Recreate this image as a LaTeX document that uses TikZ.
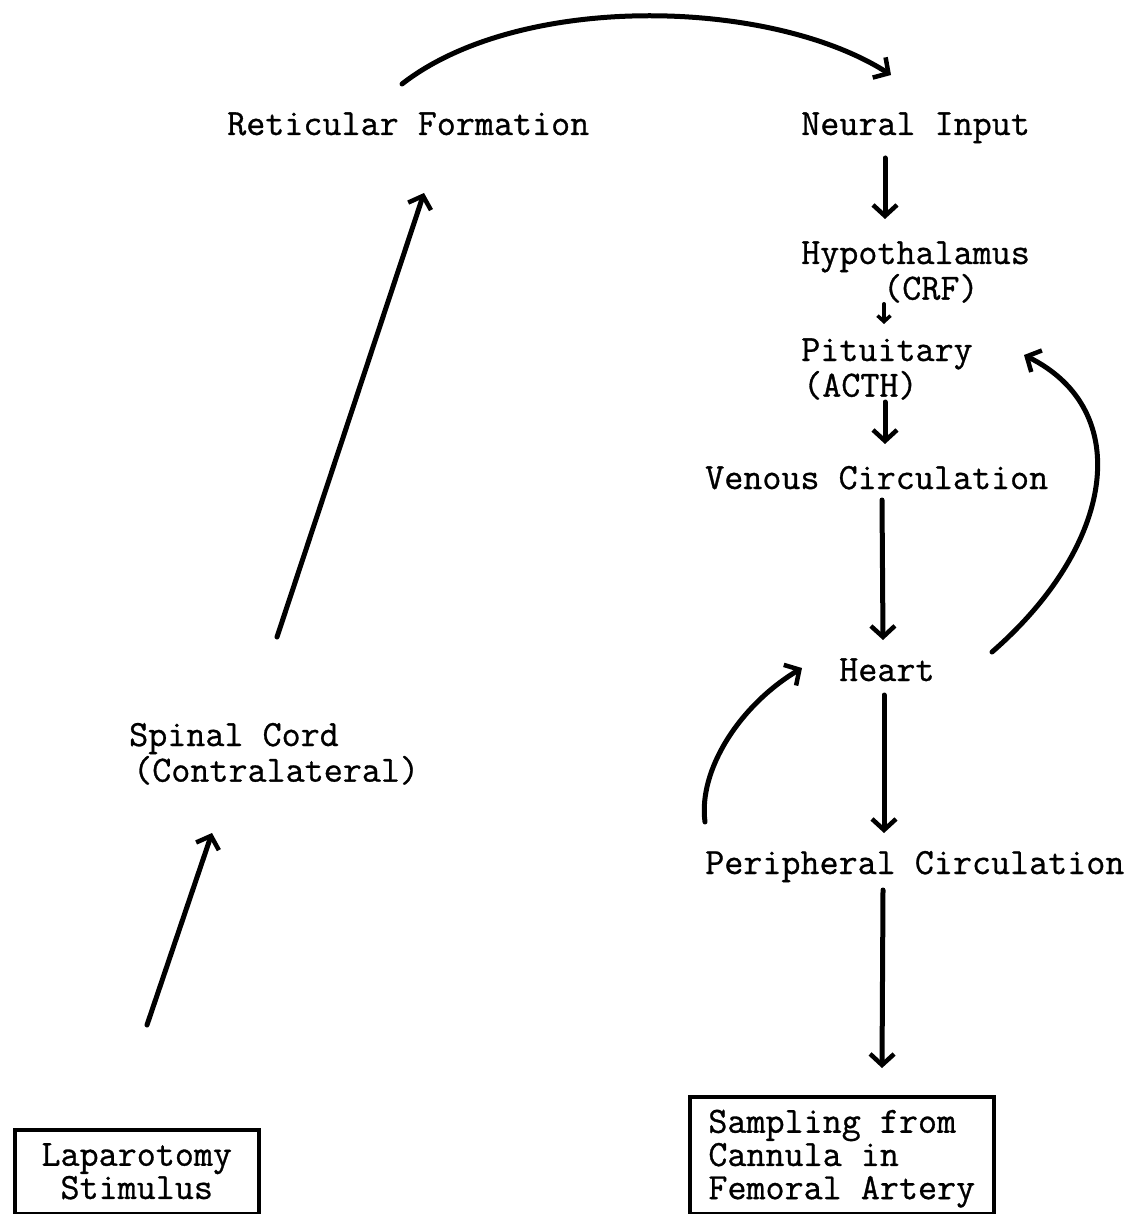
\documentclass[tikz,border=0pt]{standalone}
\usepackage{fontspec}
\newfontfamily\tw[FakeBold=0.8]{Latin Modern Mono}
\usetikzlibrary{arrows.meta}
\tikzset{
  lbl/.style={font=\tw\fontsize{37}{33.2}\selectfont, inner sep=0pt, anchor=base west},
  arr/.style={line width=5pt, line cap=round, -{Straight Barb[length=11pt,width=24pt,line width=4.5pt]}},
  smallarr/.style={line width=4pt, line cap=round, -{Straight Barb[length=6pt,width=13pt,line width=3.5pt]}},
  frame/.style={draw, line width=3.5pt, inner xsep=0pt, inner ysep=0pt, anchor=north west,
    font=\tw\fontsize{37}{33.2}\selectfont}
}
\begin{document}
\begin{tikzpicture}[x=1pt,y=-1pt]
\useasboundingbox (0,0) rectangle (1131,1214);
% labels
\node[lbl] (retic) at (227,135) {Reticular Formation};
\node[lbl] (neural) at (801,135) {Neural Input};
\node[lbl] (hypo) at (801,264) {\begin{tabular}[t]{@{}l@{}}Hypothalamus\\\hspace*{82pt}(CRF)\end{tabular}};
\node[lbl] (pit) at (801,361) {\begin{tabular}[t]{@{}l@{}}Pituitary\\\hspace*{2pt}(ACTH)\end{tabular}};
\node[lbl] (venous) at (705,489) {Venous Circulation};
\node[lbl] (heart) at (839,681) {Heart};
\node[lbl] (spinal) at (129,746) {\begin{tabular}[t]{@{}l@{}}Spinal Cord\\\hspace*{4pt}(Contralateral)\end{tabular}};
\node[lbl] (periph) at (705,874) {Peripheral Circulation};
\node[frame, minimum width=244pt, text height=36pt, text depth=48pt] (lap) at (13,1128)
  {\begin{tabular}[t]{@{}c@{}}Laparotomy\\Stimulus\end{tabular}};
\node[frame, minimum width=304pt, text height=36pt, text depth=81pt] (samp) at (688,1095)
  {\begin{tabular}[t]{@{}l@{}}Sampling from\\Cannula in\\Femoral Artery\end{tabular}};
% connector end points
\coordinate (retic-out) at (402,84);
\coordinate (neural-in) at (891,75);
\coordinate (neural-out) at (885,158);
\coordinate (hypo-in) at (885,219);
\coordinate (hypo-out) at (884,304);
\coordinate (pit-in) at (884,324);
\coordinate (pit-out) at (885,402);
\coordinate (venous-in) at (885,444);
\coordinate (venous-out) at (882,500);
\coordinate (heart-in) at (883,640);
\coordinate (heart-out) at (884,695);
\coordinate (periph-in) at (884,833);
\coordinate (periph-out) at (883,890);
\coordinate (samp-in) at (882,1068);
\coordinate (heart-fb) at (992,652);
\coordinate (pit-fb) at (1024,355);
\coordinate (periph-fb) at (705,822);
\coordinate (heart-fbin) at (802,668);
\coordinate (lap-out) at (147,1025);
\coordinate (spinal-in) at (212,833);
\coordinate (spinal-out) at (277,637);
\coordinate (retic-in) at (424,193);
% connectors
\draw[arr] (retic-out) .. controls (520,-8) and (770,-2) .. (neural-in);
\draw[arr] (neural-out) -- (hypo-in);
\draw[smallarr] (hypo-out) -- (pit-in);
\draw[arr] (pit-out) -- (venous-in);
\draw[arr] (venous-out) -- (heart-in);
\draw[arr] (heart-out) -- (periph-in);
\draw[arr] (periph-out) -- (samp-in);
\draw[arr] (heart-fb) .. controls (1115,545) and (1135,410) .. (pit-fb);
\draw[arr] (periph-fb) .. controls (698,770) and (740,705) .. (heart-fbin);
\draw[arr] (lap-out) -- (spinal-in);
\draw[arr] (spinal-out) -- (retic-in);
\end{tikzpicture}
\end{document}
